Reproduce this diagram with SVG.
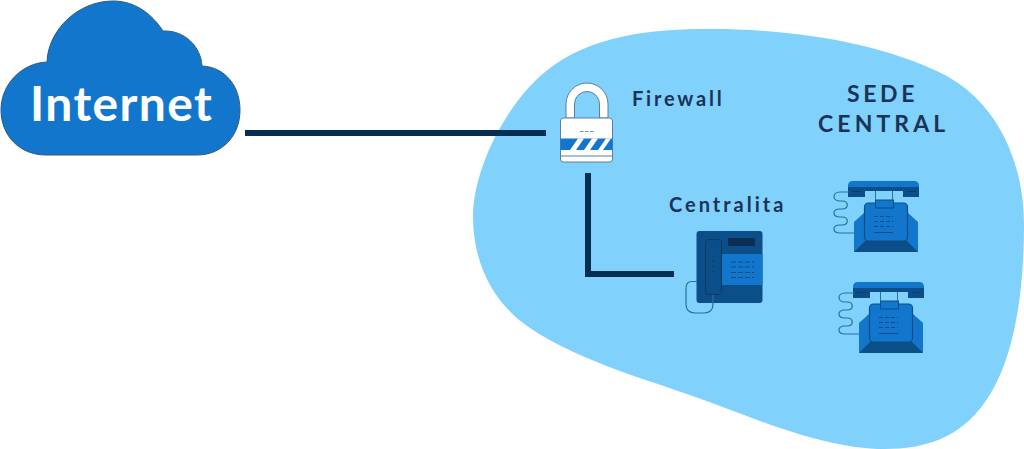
<svg xmlns="http://www.w3.org/2000/svg" width="1024" height="449" viewBox="0 0 1024 449">
<style>
.lbl{font-family:"Lato","Liberation Sans",sans-serif;font-weight:700;fill:#1b3358}
.conn{fill:none;stroke:#062e52;stroke-width:6}
.w{fill:none;stroke:#2c6f9f;stroke-width:1.2}
</style>
<defs>
<g id="phone">
<path d="M854 222L865 212H907L918 222V252H854Z" fill="#1277cc"/>
<path d="M854 252L865 241L907 241L918 252Z" fill="#0b4e88"/>
<rect x="864.500" y="203" width="43" height="38" rx="4" fill="#1277cc" stroke="#0b4e88" stroke-width="1.200"/>
<path d="M848 191V186Q848 181 853 181L914 181Q919 181 919 186V191Z" fill="#1277cc"/>
<path d="M848 187L919 187L919 197L903 197L903 191L865 191L865 197L848 197Z" fill="#0b4e88"/>
<path d="M852 191.500h9M907 191.500h9" stroke="#0b3c68" fill="none"/>
<rect x="875.500" y="200" width="18" height="8" fill="#1277cc" stroke="#0b4e88"/>
<path d="M875.500 191V200M892.500 191V200" stroke="#2c6f9f" fill="none"/>
<path d="M874 216.500h19M874 221.500h19M874 226.500h19" stroke="#0b4e88" stroke-dasharray="4 2" fill="none"/>
<path d="M874 232.500h19" stroke="#0b4e88" fill="none"/>
<path d="M849 192H840C832 192 832 201 840 201H842C849 201 849 209 842 209H840C832 209 832 217 840 217H842C849 217 849 225 842 225H840C832 225 832 233 840 233H854" class="w"/>
</g>
</defs>
<rect width="1024" height="449" fill="#fff"/>
<path id="blob" d="M473 217C473 170 505 105 545 72C590 35 650 29 712 29C790 29 880 42 945 75C1000 105 1024 165 1024 225C1024 300 1012 365 985 402C960 438 925 449 885 449C830 449 770 425 712 403C650 380 580 362 530 328C495 305 473 265 473 217Z" fill="#80d2fc"/>
<g id="connectors">
<path class="conn" d="M245 133H546"/>
<path class="conn" d="M588 173V274H674"/>
</g>
<g id="internet">
<path d="M47 62C48 30 78 1 113 1C135 1 152 14 163 31C185 30 201 47 202 66C225 67 240 86 240 110C240 136 222 155 197 155H46C20 155 1 136 1 110C1 84 22 63 47 62Z" fill="#1277cc" stroke="#33597d" stroke-width="1"/>
<text x="30" y="121" font-family="Lato,'Liberation Sans',sans-serif" font-weight="700" font-size="48" letter-spacing="1.400" fill="#fff">Internet</text>
</g>
<g id="firewall">
<path d="M566 118V104A21 21 0 0 1 608 104V118H599.500V104A12.500 12.500 0 0 0 574.500 104V118Z" fill="#fff" stroke="#5d7f9c" stroke-width="1"/>
<rect x="560.500" y="118" width="52" height="44" rx="3" fill="#fff" stroke="#5d7f9c" stroke-width="1"/>
<path d="M560.500 138.500H612.500V150H560.500Z" fill="#1277cc"/>
<path d="M570 150L578 138.500H584L576 150ZM584 150L592 138.500H598L590 150ZM598 150L606 138.500H611L603 150Z" fill="#fff"/>
<path d="M561 156H612" stroke="#5d7f9c"/>
<path d="M580 131.500h14" stroke="#7b8da0" stroke-dasharray="3.500 1.500"/>
<text class="lbl" x="632" y="106" font-size="20" letter-spacing="2.800">Firewall</text>
</g>
<g id="centralita">
<text class="lbl" x="669" y="212" font-size="20" letter-spacing="3">Centralita</text>
<rect x="696.500" y="231" width="66" height="72" rx="3" fill="#0b4e88"/>
<rect x="722" y="254" width="40.500" height="31" fill="#1277cc"/>
<rect x="728" y="238" width="27" height="8" fill="#0b2f55"/>
<path d="M731 250.500h23M731 262h23M731 267h23M731 272.500h23M731 277.500h23" stroke="#0b4e88" stroke-dasharray="5 2"/>
<rect x="705.500" y="239.500" width="16" height="55" rx="3" fill="#0b4e88" stroke="#0b3c68"/>
<path d="M713 260V274" stroke="#0b3c68" stroke-dasharray="2 3"/>
<path d="M697 281.500H692C686 281.500 686 286 686 290V304C686 310 689 313 695 313H704C710 313 713 310 713 304V295" class="w"/>
</g>
<g id="sede">
<text class="lbl" x="847" y="102" font-size="23" letter-spacing="3.600">SEDE</text>
<text class="lbl" x="818" y="132" font-size="23" letter-spacing="4.100">CENTRAL</text>
</g>
<g id="phone1"><use href="#phone"/></g>
<g id="phone2"><use href="#phone" x="5" y="101"/></g>
</svg>
